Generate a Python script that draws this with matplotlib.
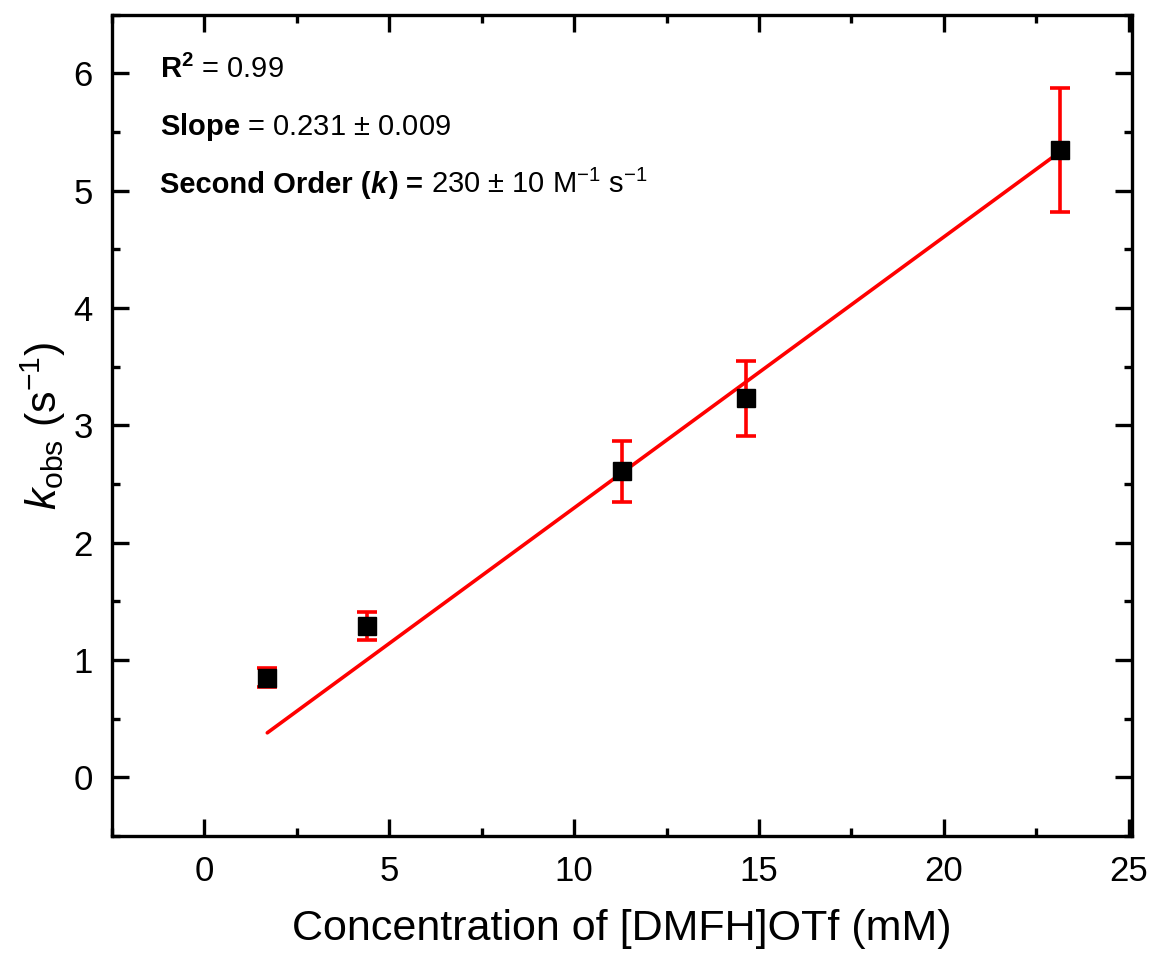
import matplotlib
matplotlib.use("Agg")
import matplotlib.pyplot as plt
import numpy as np
from matplotlib.ticker import MultipleLocator

# Observed rate constants vs acid concentration
conc_mM = [1.7, 4.4, 11.3, 14.65, 23.15]
k_obs = [0.85, 1.29, 2.61, 3.23, 5.35]
k_err = [0.08, 0.12, 0.26, 0.32, 0.53]

# Linear fit parameters
slope = 0.231
intercept = -0.013

plt.rcParams['font.family'] = ['Liberation Sans', 'DejaVu Sans']
plt.rcParams['mathtext.fontset'] = 'custom'
plt.rcParams['mathtext.rm'] = 'Liberation Sans'
plt.rcParams['mathtext.it'] = 'Liberation Sans:italic'
plt.rcParams['mathtext.bf'] = 'Liberation Sans:bold'
plt.rcParams['mathtext.bfit'] = 'Liberation Sans:bold:italic'

fig = plt.figure(figsize=(11.57, 9.56), dpi=100)
ax = fig.add_axes([0.0968, 0.1255, 0.882, 0.859])

xfit = np.array([conc_mM[0], conc_mM[-1]])
ax.plot(xfit, slope * xfit + intercept, color='red', lw=2.6, solid_capstyle='round', zorder=2)

ax.errorbar(conc_mM, k_obs, yerr=k_err, fmt='s', color='black', ms=12.5,
            ecolor='red', elinewidth=2.6, capsize=7, capthick=2.6, zorder=3)

ax.set_xlim(-2.5, 25.1)
ax.set_ylim(-0.5, 6.5)
ax.xaxis.set_major_locator(MultipleLocator(5))
ax.xaxis.set_minor_locator(MultipleLocator(2.5))
ax.yaxis.set_major_locator(MultipleLocator(1))
ax.yaxis.set_minor_locator(MultipleLocator(0.5))
ax.tick_params(which='both', direction='in', top=True, right=True, width=2.4,
               labelsize=25)
ax.tick_params(which='major', length=12, pad=14)
ax.tick_params(which='minor', length=6)
for s in ax.spines.values():
    s.set_linewidth(2.4)

ax.set_xlabel('Concentration of [DMFH]OTf (mM)', fontsize=31, labelpad=15)
ax.set_ylabel(r'$k_{\mathrm{obs}}$ (s$^{\mathrm{-1}}$)', fontsize=31, labelpad=4)

fs = 21
ax.text(0.047, 0.933, r'$\mathbf{R^2}$ = 0.99', transform=ax.transAxes,
        fontsize=fs, va='center')
ax.text(0.047, 0.864, r'$\mathbf{Slope}$ = 0.231 ± 0.009', transform=ax.transAxes,
        fontsize=fs, va='center')

# Rate-constant line assembled from pieces with mixed weights;
# each entry: text, font options, extra gap (px) after the piece
renderer = fig.canvas.get_renderer()
space_px = fs * 100 / 72 * 0.278
pieces = [("Second Order (", dict(weight='bold'), 0.0),
          ("k", dict(weight='bold', style='italic'), 1.5),
          (") =", dict(weight='bold'), space_px),
          (r"230 ± 10 M$^{\mathrm{-1}}$ s$^{\mathrm{-1}}$", dict(), 0.0)]
x0, y0 = ax.transAxes.transform((0.047, 0.795))
y0 -= fs * 100 / 72 * 0.35
xcur = x0
for txt, kw, gap in pieces:
    t = fig.text(xcur / fig.bbox.width, y0 / fig.bbox.height, txt, fontsize=fs,
                 va='baseline', ha='left', **kw)
    ext = t.get_window_extent(renderer)
    xcur = ext.x1 + gap

fig.savefig('out.png', dpi=100)
